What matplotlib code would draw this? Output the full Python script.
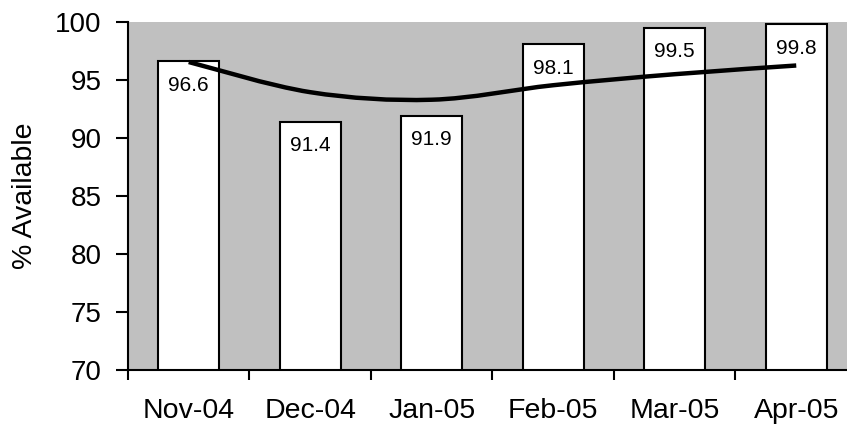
import matplotlib
matplotlib.use("Agg")
import matplotlib.pyplot as plt
import numpy as np
from matplotlib.path import Path
from matplotlib.patches import PathPatch

plt.rcParams['font.family'] = ['Liberation Sans', 'DejaVu Sans']

months = ["Nov-04", "Dec-04", "Jan-05", "Feb-05", "Mar-05", "Apr-05"]
availability = [96.6, 91.4, 91.9, 98.1, 99.5, 99.8]
trend = [96.55, 93.95, 93.3, 94.55, 95.5, 96.25]
y_ticks = [70, 75, 80, 85, 90, 95, 100]

fig = plt.figure(figsize=(8.47, 4.28), dpi=100)
ax = fig.add_axes([0.1511, 0.1355, 0.8607, 0.8131])
ax.set_facecolor("#C0C0C0")

x = np.arange(len(months))
ax.bar(x, availability, width=0.5, color="white", edgecolor="black",
       linewidth=1.5, zorder=2)

for xi, v in zip(x, availability):
    ax.annotate(f"{v:.1f}", (xi, v), xytext=(0, -24), textcoords="offset pixels",
                ha="center", va="center", fontsize=15, zorder=4)

# smooth trend curve through the trend points (Catmull-Rom as cubic Beziers)
pts = np.column_stack([x, trend]).astype(float)
verts = [tuple(pts[0])]
codes = [Path.MOVETO]
n = len(pts)
for i in range(n - 1):
    p0 = pts[i - 1] if i > 0 else pts[i]
    p1 = pts[i]
    p2 = pts[i + 1]
    p3 = pts[i + 2] if i + 2 < n else pts[i + 1]
    c1 = p1 + (p2 - p0) / 6.0
    c2 = p2 - (p3 - p1) / 6.0
    verts += [tuple(c1), tuple(c2), tuple(p2)]
    codes += [Path.CURVE4] * 3
ax.add_patch(PathPatch(Path(verts, codes), facecolor="none", edgecolor="black",
                       linewidth=3.2, capstyle="butt", zorder=3))

ax.set_xlim(-0.5, len(months) - 0.5)
ax.set_ylim(70, 100)
ax.set_yticks(y_ticks)
ax.set_yticklabels([str(t) for t in y_ticks], fontsize=20)
ax.set_xticks(x)
ax.set_xticklabels(months, fontsize=20.5)
ax.set_xticks(np.arange(len(months) + 1) - 0.5, minor=True)
ax.tick_params(axis="x", which="major", length=0, pad=20)
ax.tick_params(axis="x", which="minor", length=7, width=1.5, direction="out")
ax.tick_params(axis="y", length=9, width=1.5, direction="out", pad=10)

ax.set_ylabel("% Available", fontsize=20.5, labelpad=12)

for side in ["top", "right"]:
    ax.spines[side].set_visible(False)
for side in ["left", "bottom"]:
    ax.spines[side].set_linewidth(1.5)

fig.savefig("out.png", dpi=100)
